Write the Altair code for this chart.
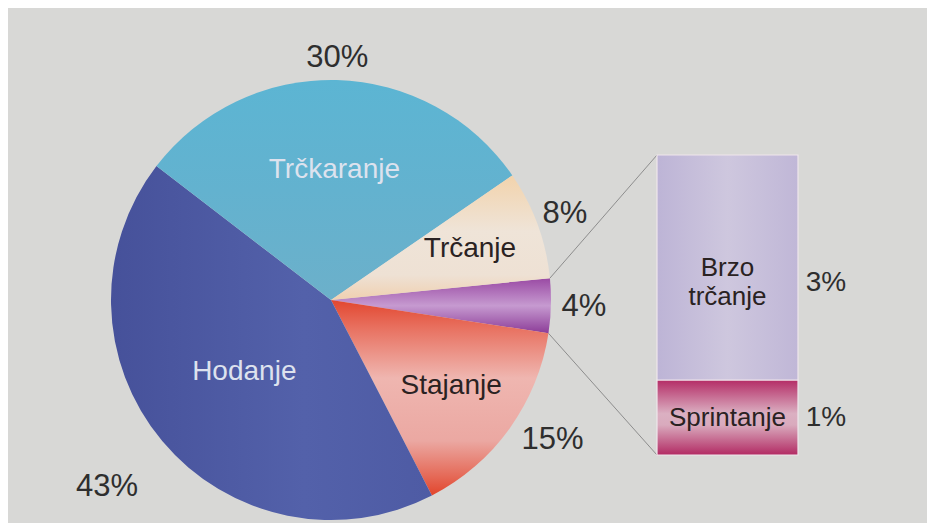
import math
import altair as alt
import pandas as pd

# ---------------- data ----------------
pie_categories = ["Brzo trčanje i sprintanje", "Stajanje", "Hodanje", "Trčkaranje", "Trčanje"]
pie_inner_labels = ["", "Stajanje", "Hodanje", "Trčkaranje", "Trčanje"]
pie_values = [4, 15, 43, 30, 8]

bar_categories = ["Sprintanje", "Brzo trčanje"]
bar_labels = ["Sprintanje", "Brzo\ntrčanje"]
bar_values = [1, 3]

# ---------------- layout ----------------
W, H = 919, 515
CX, CY, R = 323, 292, 220
START = 84.3 * math.pi / 180
BAR_X0, BAR_X1 = 649, 790
BAR_TOP, BAR_BOTTOM = 147, 447
FONT = "Liberation Sans"


def lg(stops, x1=0, y1=0, x2=0, y2=1):
    return {"gradient": "linear", "x1": x1, "y1": y1, "x2": x2, "y2": y2,
            "stops": [{"offset": o, "color": c} for o, c in stops]}


g_hod = lg([(0, "#46519a"), (0.6, "#5361aa"), (1, "#4e5ba4")], 0, 0, 1, 0)
g_trck = lg([(0, "#5cb5d3"), (0.5, "#63b2cf"), (1, "#6cb0ca")])
g_trc = lg([(0, "#f2d3ac"), (0.45, "#efe4d8"), (0.8, "#eee1d4"), (1, "#f0d0b0")])
g_pur = lg([(0, "#9a4aa4"), (0.5, "#c69ad0"), (1, "#8c3c98")])
g_sta = lg([(0, "#e2462f"), (0.14, "#e8705f"), (0.4, "#efb6b0"), (0.72, "#eba8a2"),
            (0.9, "#e56a58"), (1, "#e2452c")])
g_brzo = lg([(0, "#bdb4d6"), (0.5, "#cec7de"), (1, "#c0b7d7")], 0, 0, 1, 0)
g_spr = lg([(0, "#b42c66"), (0.45, "#dbb0c2"), (0.6, "#d9aabd"), (1, "#b22a63")])

pie_df = pd.DataFrame({"cat": pie_categories, "label": pie_inner_labels,
                       "value": pie_values, "ord": list(range(len(pie_values)))})
bar_df = pd.DataFrame({"cat": bar_categories, "label": bar_labels,
                       "value": bar_values, "ord": list(range(len(bar_values)))})

theta = alt.Theta("value:Q", stack=True,
                  scale=alt.Scale(domain=[0, 100], range=[START, START + 2 * math.pi]))
order = alt.Order("ord:Q")

pie_fill = alt.FillValue(
    value=g_pur,
    condition=[
        {"test": "datum.cat === 'Stajanje'", "value": g_sta},
        {"test": "datum.cat === 'Hodanje'", "value": g_hod},
        {"test": "datum.cat === 'Trčkaranje'", "value": g_trck},
        {"test": "datum.cat === 'Trčanje'", "value": g_trc},
    ],
)

arcs = alt.Chart(pie_df).mark_arc(outerRadius=R).encode(
    theta=theta, order=order, x=alt.value(CX), y=alt.value(CY), fill=pie_fill
)

# cumulative angles of every slice (start, middle, end), computed from the values
pie_base = alt.Chart(pie_df).transform_window(
    cum="sum(value)", sort=[alt.SortField("ord")], frame=[None, 0]
).transform_calculate(
    t0=f"{START} + (datum.cum - datum.value) / 100 * 2 * PI",
    tm=f"{START} + (datum.cum - datum.value / 2) / 100 * 2 * PI",
    t1=f"{START} + datum.cum / 100 * 2 * PI",
    pct="datum.value + '%'",
)

inner = pie_base.transform_calculate(
    r="datum.cat === 'Hodanje' ? 113 : datum.cat === 'Trčkaranje' ? 130 : 148"
).mark_text(font=FONT, fontSize=28, align="center", baseline="middle").encode(
    theta=alt.Theta("tm:Q", scale=None, stack=False),
    radius=alt.Radius("r:Q", scale=None),
    x=alt.value(CX), y=alt.value(CY), text="label:N",
    color=alt.condition("datum.cat === 'Hodanje' || datum.cat === 'Trčkaranje'",
                        alt.value("#dde2ee"), alt.value("#2a2222")),
)

outer = pie_base.transform_calculate(
    r="datum.cat === 'Hodanje' ? 292 : datum.cat === 'Stajanje' ? 262 : "
      "datum.cat === 'Trčkaranje' ? 242 : datum.cat === 'Trčanje' ? 249 : 253",
    ta="datum.cat === 'Stajanje' ? datum.tm - 0.06 : datum.tm",
).mark_text(font=FONT, fontSize=31, align="center", baseline="middle", color="#2e2e2e").encode(
    theta=alt.Theta("ta:Q", scale=None, stack=False),
    radius=alt.Radius("r:Q", scale=None),
    x=alt.value(CX), y=alt.value(CY), text="pct:N",
)

conn = pie_base.transform_filter("datum.ord === 0").transform_calculate(
    xa=f"{CX} + {R} * sin(datum.t0)",
    ya=f"{CY} - {R} * cos(datum.t0)",
    xb=f"{CX} + {R} * sin(datum.t1)",
    yb=f"{CY} - {R} * cos(datum.t1)",
)
rule_top = conn.mark_rule(color="#8d8d8d", strokeWidth=1).encode(
    x=alt.X("xa:Q", scale=None), y=alt.Y("ya:Q", scale=None),
    x2=alt.value(BAR_X0), y2=alt.value(BAR_TOP),
)
rule_bot = conn.mark_rule(color="#8d8d8d", strokeWidth=1).encode(
    x=alt.X("xb:Q", scale=None), y=alt.Y("yb:Q", scale=None),
    x2=alt.value(BAR_X0), y2=alt.value(BAR_BOTTOM),
)

ybar = alt.Scale(domain=[0, 4], range=[BAR_BOTTOM, BAR_TOP])
bar_base = alt.Chart(bar_df).transform_window(
    hi="sum(value)", sort=[alt.SortField("ord")], frame=[None, 0]
).transform_calculate(
    lo="datum.hi - datum.value", mid="datum.hi - datum.value / 2", pct="datum.value + '%'"
).transform_calculate(
    pm="datum.cat === 'Brzo trčanje' ? datum.mid - 0.2 : datum.mid"
)

bars = bar_base.mark_rect(stroke="#efe6ec", strokeWidth=1.2).encode(
    x=alt.value(BAR_X0), x2=alt.value(BAR_X1),
    y=alt.Y("lo:Q", scale=ybar, axis=None), y2="hi:Q",
    fill=alt.FillValue(value=g_brzo,
                       condition=[{"test": "datum.cat === 'Sprintanje'", "value": g_spr}]),
)
bar_text = bar_base.mark_text(font=FONT, fontSize=26, align="center", baseline="middle",
                              lineBreak="\n", lineHeight=29, color="#2a2222").encode(
    x=alt.value((BAR_X0 + BAR_X1) / 2), y=alt.Y("mid:Q", scale=ybar, axis=None),
    text="label:N",
)
bar_pct = bar_base.mark_text(font=FONT, fontSize=28, align="center", baseline="middle",
                             color="#2e2e2e").encode(
    x=alt.value(BAR_X1 + 28), y=alt.Y("pm:Q", scale=ybar, axis=None), text="pct:N",
)

chart = alt.layer(arcs, rule_top, rule_bot, bars, inner, outer, bar_text, bar_pct).properties(
    width=W, height=H, background="#d8d8d6", padding=0,
    autosize=alt.AutoSizeParams(type="fit", contains="padding"),
).configure_view(stroke=None)

chart.save("out.html", embed_options={"renderer": "svg", "actions": False})
